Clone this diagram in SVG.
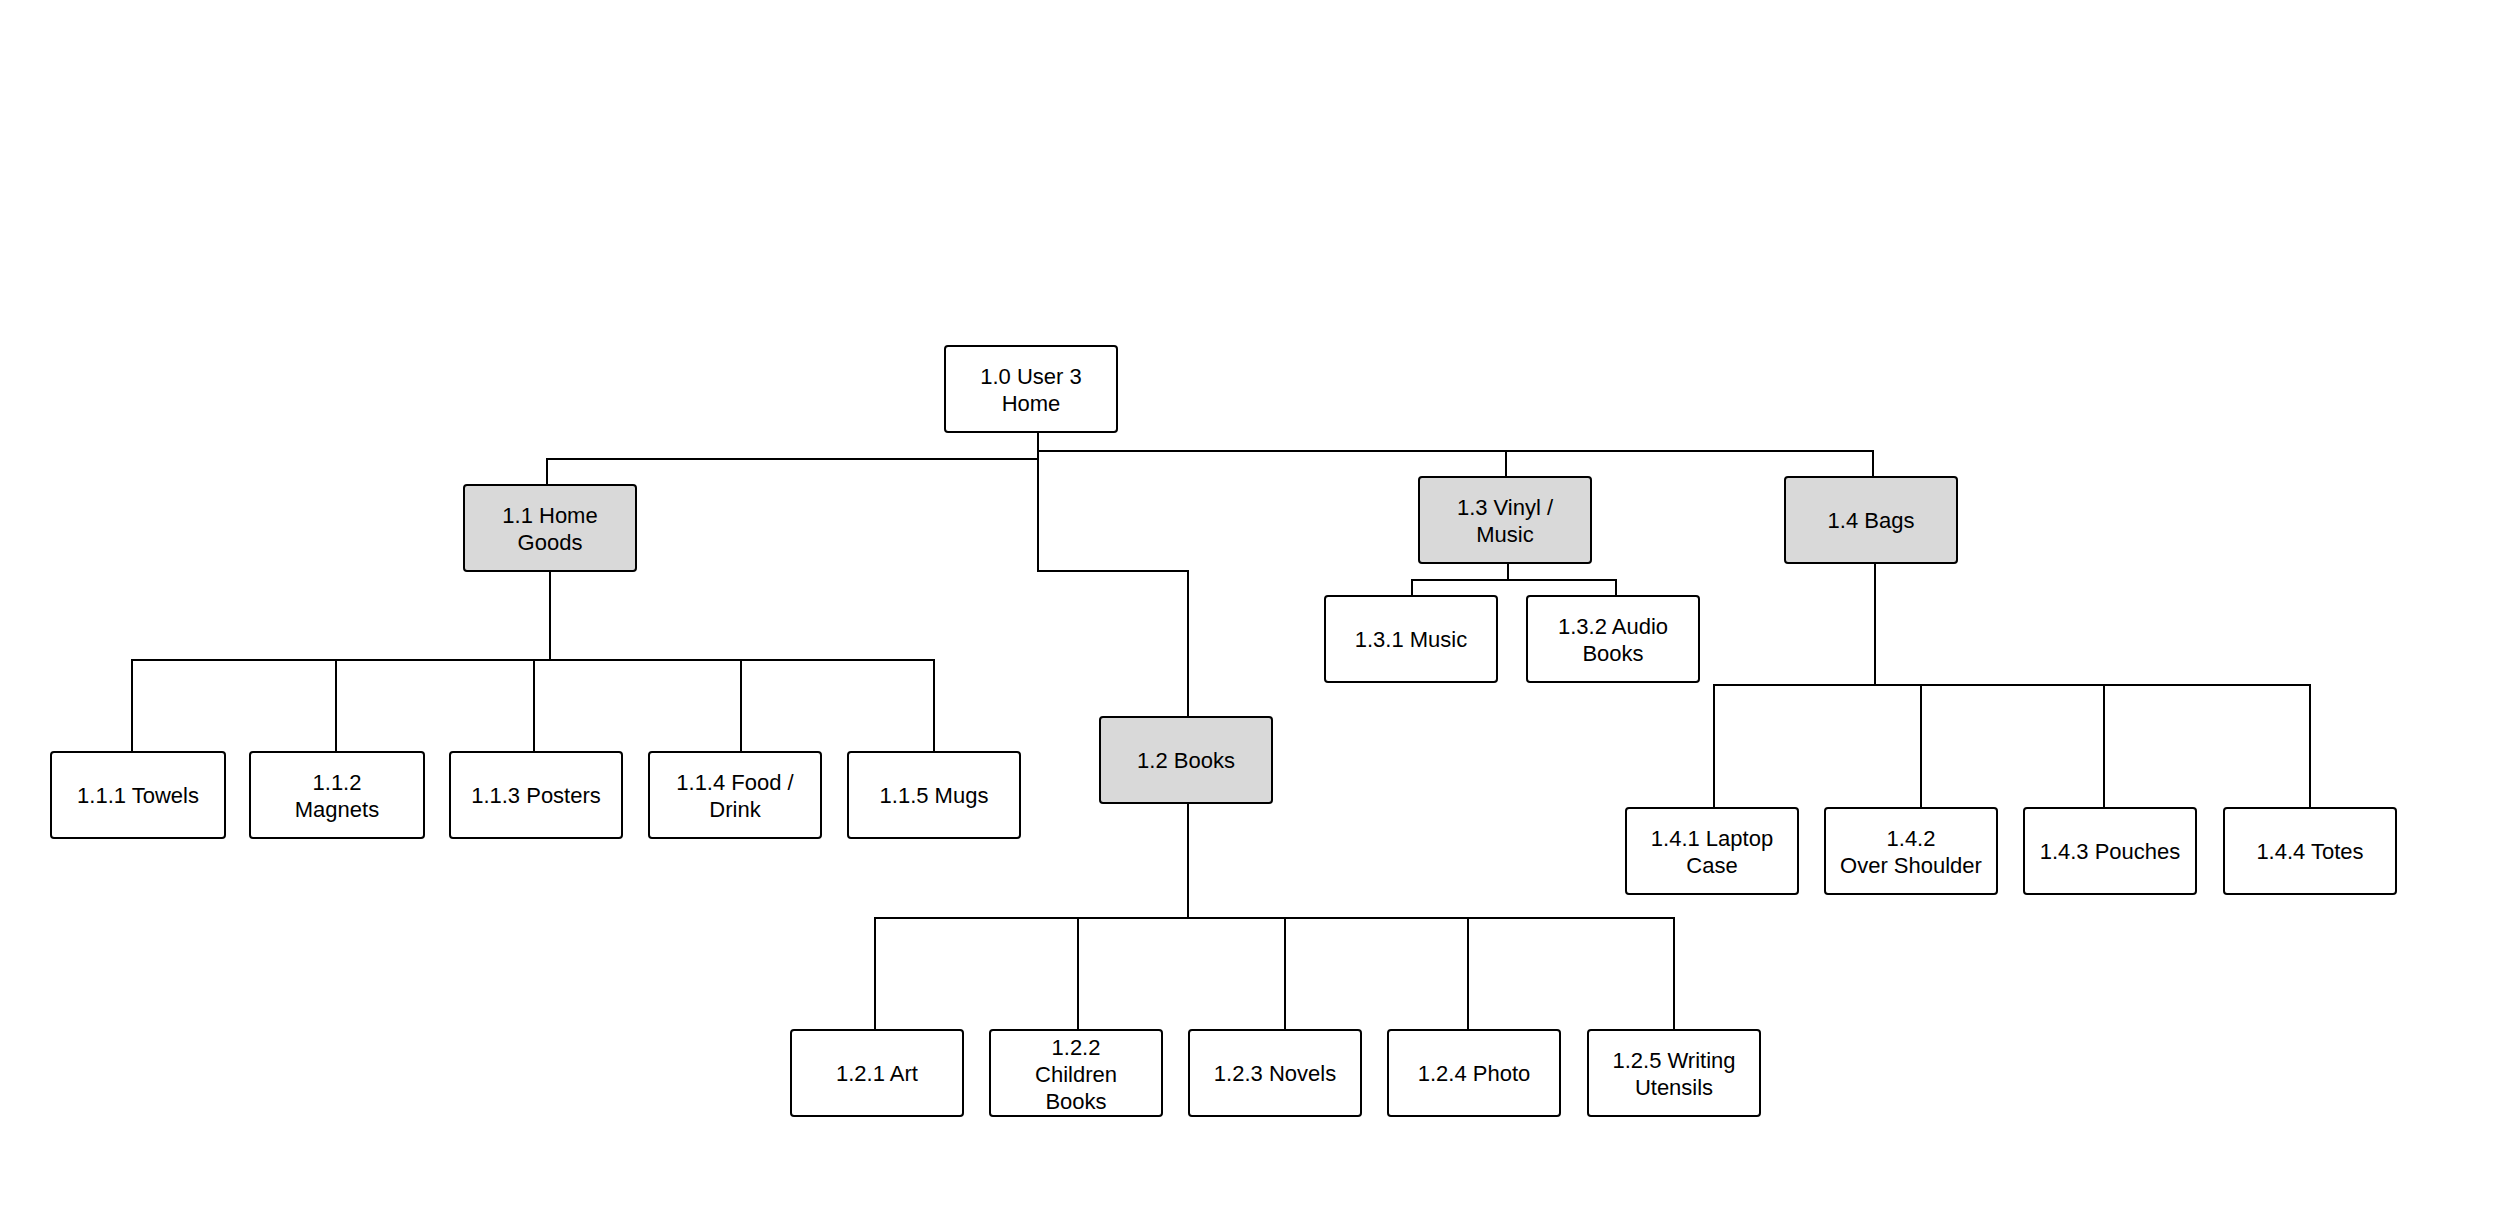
<svg xmlns="http://www.w3.org/2000/svg" width="2500" height="1221" viewBox="0 0 2500 1221">
<style>
.b{fill:#fff;stroke:#000;stroke-width:2}
.g{fill:#d9d9d9;stroke:#000;stroke-width:2}
text{font-family:"Liberation Sans",Arial,sans-serif;font-size:22px;fill:#000;text-anchor:middle}
.c{fill:none;stroke:#000;stroke-width:2}
</style>
<rect width="2500" height="1221" fill="#fff"/>
<g id="connectors" class="c">
<polyline points="1038,428 1038,459"/>
<polyline points="547,485 547,459 1038,459"/>
<polyline points="1038,451 1873,451 1873,477"/>
<polyline points="1506,451 1506,477"/>
<polyline points="1038,459 1038,571 1188,571 1188,717"/>
<polyline points="550,571 550,660"/>
<polyline points="132,752 132,660 934,660 934,752"/>
<polyline points="336,660 336,752"/><polyline points="534,660 534,752"/><polyline points="741,660 741,752"/>
<polyline points="1508,563 1508,580"/>
<polyline points="1412,596 1412,580 1616,580 1616,596"/>
<polyline points="1188,803 1188,918"/>
<polyline points="875,1030 875,918 1674,918 1674,1030"/>
<polyline points="1078,918 1078,1030"/><polyline points="1285,918 1285,1030"/><polyline points="1468,918 1468,1030"/>
<polyline points="1875,563 1875,685"/>
<polyline points="1714,808 1714,685 2310,685 2310,808"/>
<polyline points="1921,685 1921,808"/><polyline points="2104,685 2104,808"/>
</g>
<g id="n10"><rect class="b" x="945" y="346" width="172" height="86" rx="3"/><text x="1031" y="384">1.0 User 3</text><text x="1031" y="411">Home</text></g>
<g id="n11"><rect class="g" x="464" y="485" width="172" height="86" rx="3"/><text x="550" y="523">1.1 Home</text><text x="550" y="550">Goods</text></g>
<g id="n12"><rect class="g" x="1100" y="717" width="172" height="86" rx="3"/><text x="1186" y="768">1.2 Books</text></g>
<g id="n13"><rect class="g" x="1419" y="477" width="172" height="86" rx="3"/><text x="1505" y="515">1.3 Vinyl /</text><text x="1505" y="542">Music</text></g>
<g id="n14"><rect class="g" x="1785" y="477" width="172" height="86" rx="3"/><text x="1871" y="528">1.4 Bags</text></g>
<g id="n131"><rect class="b" x="1325" y="596" width="172" height="86" rx="3"/><text x="1411" y="647">1.3.1 Music</text></g>
<g id="n132"><rect class="b" x="1527" y="596" width="172" height="86" rx="3"/><text x="1613" y="634">1.3.2 Audio</text><text x="1613" y="661">Books</text></g>
<g id="n111"><rect class="b" x="51" y="752" width="174" height="86" rx="3"/><text x="138" y="803">1.1.1 Towels</text></g>
<g id="n112"><rect class="b" x="250" y="752" width="174" height="86" rx="3"/><text x="337" y="790">1.1.2</text><text x="337" y="817">Magnets</text></g>
<g id="n113"><rect class="b" x="450" y="752" width="172" height="86" rx="3"/><text x="536" y="803">1.1.3 Posters</text></g>
<g id="n114"><rect class="b" x="649" y="752" width="172" height="86" rx="3"/><text x="735" y="790">1.1.4 Food /</text><text x="735" y="817">Drink</text></g>
<g id="n115"><rect class="b" x="848" y="752" width="172" height="86" rx="3"/><text x="934" y="803">1.1.5 Mugs</text></g>
<g id="n121"><rect class="b" x="791" y="1030" width="172" height="86" rx="3"/><text x="877" y="1081">1.2.1 Art</text></g>
<g id="n122"><rect class="b" x="990" y="1030" width="172" height="86" rx="3"/><text x="1076" y="1055">1.2.2</text><text x="1076" y="1082">Children</text><text x="1076" y="1109">Books</text></g>
<g id="n123"><rect class="b" x="1189" y="1030" width="172" height="86" rx="3"/><text x="1275" y="1081">1.2.3 Novels</text></g>
<g id="n124"><rect class="b" x="1388" y="1030" width="172" height="86" rx="3"/><text x="1474" y="1081">1.2.4 Photo</text></g>
<g id="n125"><rect class="b" x="1588" y="1030" width="172" height="86" rx="3"/><text x="1674" y="1068">1.2.5 Writing</text><text x="1674" y="1095">Utensils</text></g>
<g id="n141"><rect class="b" x="1626" y="808" width="172" height="86" rx="3"/><text x="1712" y="846">1.4.1 Laptop</text><text x="1712" y="873">Case</text></g>
<g id="n142"><rect class="b" x="1825" y="808" width="172" height="86" rx="3"/><text x="1911" y="846">1.4.2</text><text x="1911" y="873">Over Shoulder</text></g>
<g id="n143"><rect class="b" x="2024" y="808" width="172" height="86" rx="3"/><text x="2110" y="859">1.4.3 Pouches</text></g>
<g id="n144"><rect class="b" x="2224" y="808" width="172" height="86" rx="3"/><text x="2310" y="859">1.4.4 Totes</text></g>
</svg>
